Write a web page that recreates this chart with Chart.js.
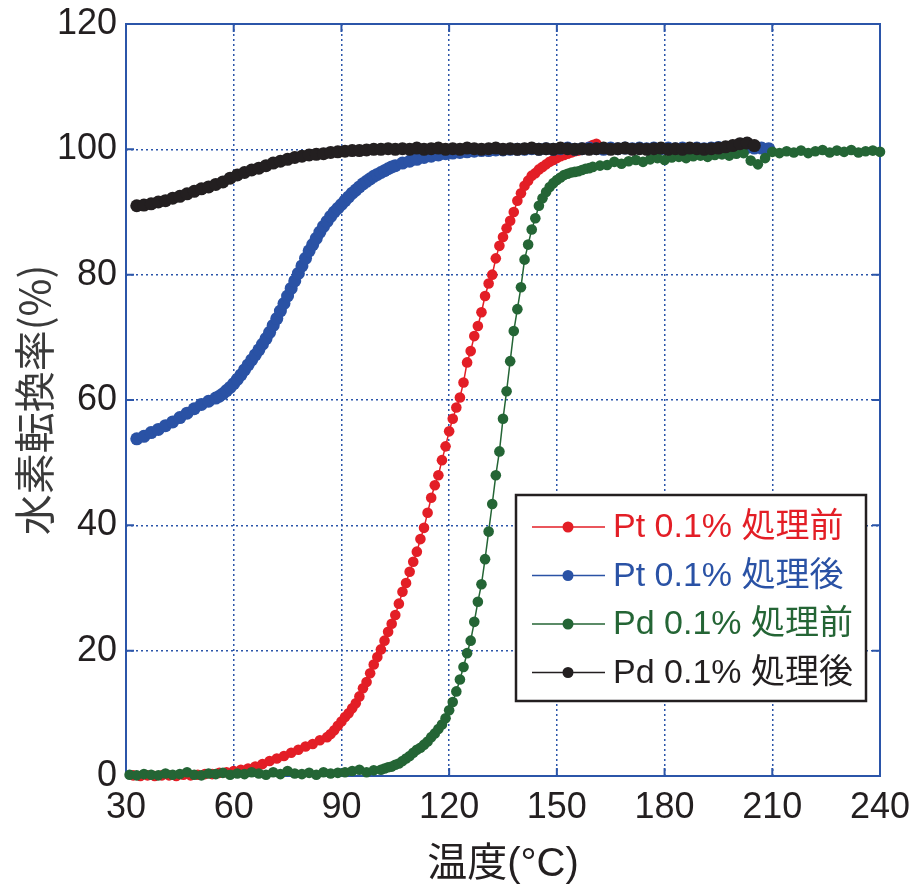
<!DOCTYPE html>
<html>
<head>
<meta charset="utf-8">
<script src="https://cdn.jsdelivr.net/npm/chart.js@4.4.1/dist/chart.umd.min.js"></script>
<style>
  body { margin: 0; background: #fff; }
  canvas { display: block; }
</style>
</head>
<body>
<canvas id="conv" width="917" height="887"></canvas>
<script>
// tick labels
var xTicks = [30, 60, 90, 120, 150, 180, 210, 240];
var yTicks = [0, 20, 40, 60, 80, 100, 120];

var seriesNames = ['Pt 0.1% 処理前', 'Pt 0.1% 処理後', 'Pd 0.1% 処理前', 'Pd 0.1% 処理後'];
var seriesColors = ['#e31e26', '#2a52a5', '#246535', '#231f20'];

// Pt 0.1% before treatment
var ptBeforeT = [32,34,36,38,40,42,44,46,48,50,52,54,56,58,60,62,64,66,68,70,72,74,76,78,80,82,84,
  86,87,88,89,90,91,92,93,94,95,96,97,98,99,100,101,102,103,104,105,106,107,108,109,110,
  111,112,113,114,115,116,117,118,119,120,121,122,123,124,125,126,127,128,129,130,
  131,132,133,134,135,136,137,138,139,140,141,142,143,144,145,146,147,148,149,150,
  151,152,153,154,155,156,157,158,159,160,161];
var ptBefore = [0.1,0,0.1,0,0.1,0.1,0,0.2,0.1,0.2,0.3,0.3,0.5,0.6,0.8,1.0,1.2,1.5,1.9,2.4,2.8,3.2,3.7,4.2,4.7,5.1,5.7,
  6.2,6.7,7.3,8.0,8.7,9.4,10.0,10.8,11.6,12.7,14.0,15.0,16.4,17.8,19.0,20.2,21.6,23.0,24.3,25.7,27.5,29.4,30.8,32.6,34.2,
  35.8,37.8,39.6,42.0,44.4,46.4,48.0,50.4,52.6,55.0,57.0,58.8,60.4,62.8,66.0,67.8,70.2,71.8,74.0,76.6,
  78.6,80.0,82.6,84.6,86.0,87.4,88.6,90.0,91.8,93.0,94.2,95.0,95.8,96.2,96.8,97.2,97.6,98.0,98.3,98.6,
  98.9,99.1,99.3,99.5,99.7,99.8,100.0,100.2,100.4,100.7,100.9];

// Pt 0.1% after treatment
var ptAfterT = [33,35,37,39,41,43,45,47,49,51,53,55,
  56,57,58,59,60,61,62,63,64,65,66,67,68,69,70,71,72,73,74,75,76,77,78,79,80,
  81,82,83,84,85,86,87,88,89,90,91,92,93,94,95,96,97,98,99,100,101,102,103,104,105,
  107,109,111,113,115,117,119,121,123,125,
  127,129,131,133,135,137,139,141,143,145,
  147,149,151,153,155,157,159,161,163,165,
  167,169,171,173,175,177,179,181,183,185,
  187,189,191,193,195,197,199,201,203,205,
  207,209];
var ptAfter = [53.8,54.2,54.8,55.3,55.9,56.5,57.2,57.9,58.6,59.3,59.8,60.3,
  60.6,61.0,61.5,62.0,62.6,63.3,64.0,64.8,65.6,66.4,67.2,68.0,68.9,69.8,70.8,71.9,73.0,74.2,75.4,76.6,77.8,79.0,80.2,81.4,82.6,
  83.8,84.8,85.8,86.8,87.7,88.5,89.3,90.0,90.6,91.2,91.8,92.4,93.0,93.5,94.0,94.5,94.9,95.3,95.7,96.0,96.3,96.6,96.9,97.2,97.4,
  97.8,98.1,98.4,98.7,98.9,99.1,99.3,99.4,99.5,99.6,
  99.7,99.8,99.8,99.9,99.9,100,100,100,100.1,100,
  100.1,100,100.1,100.2,100,100.1,100.2,100.1,100,100.2,
  100.1,100.2,100.1,100.2,100.1,100.2,100.1,100.2,100.1,100.2,
  100.1,100.2,100.1,100.2,100.3,100.2,100.3,100.2,100.3,100.2,
  100.2,100.1];

// Pd 0.1% before treatment
var pdBeforeT = [31,33,35,37,39,41,43,45,47,49,51,53,55,57,59,61,63,65,67,69,71,73,75,77,79,81,83,85,87,89,91,93,95,97,99,
  101,102,103,104,105,106,107,108,109,110,111,112,113,114,115,116,117,118,119,120,
  121,122,123,124,125,126,127,128,129,130,131,132,133,134,135,136,137,138,139,140,
  141,142,143,144,145,146,147,148,149,150,151,152,153,154,155,156,157,158,159,160,
  162,164,166,168,170,172,174,176,178,180,182,184,186,188,190,192,194,196,198,200,
  202,204,206,208,210,212,214,216,218,220,222,224,226,228,230,232,234,236,238,240];
var pdBefore = [0.2,0.1,0.3,0.2,0.1,0.4,0.2,0.3,0.6,0.2,0.1,0.4,0.3,0.5,0.2,0.4,0.3,0.6,0.4,0.2,0.6,0.3,0.8,0.4,0.3,0.5,0.2,0.6,0.4,0.5,0.6,0.8,1.0,0.6,0.9,
  1.0,1.2,1.4,1.5,1.8,2.0,2.4,2.8,3.2,3.7,4.2,4.5,5.0,5.5,6.2,6.8,7.5,8.2,9.2,10.5,
  11.8,13.5,15.4,17.4,19.6,21.6,24.6,27.8,30.6,34.6,39.0,43.4,48.0,51.8,57.0,61.4,66.2,71.0,74.5,78.0,
  82.4,84.8,87.2,89.0,91.0,92.2,93.2,94.0,94.6,95.1,95.5,95.9,96.1,96.3,96.4,96.5,96.7,96.9,97.0,97.2,
  97.4,97.5,98.0,97.7,98.1,98.3,98.0,98.4,98.6,98.3,98.7,98.8,98.6,98.9,99.0,98.8,99.1,99.2,99.0,99.3,
  99.4,98.2,97.6,98.6,99.6,99.4,99.7,99.5,99.8,99.4,99.7,99.9,99.5,99.8,99.6,99.9,99.5,99.7,99.8,99.6];

// Pd 0.1% after treatment
var pdAfterT = [33,35,37,39,41,43,45,47,49,51,53,55,57,59,61,63,65,67,69,71,73,75,77,79,81,83,85,87,89,91,93,95,97,99,
  101,103,105,107,109,111,113,115,117,119,
  121,123,125,127,129,131,133,135,137,139,
  141,143,145,147,149,151,153,155,157,159,
  161,163,165,167,169,171,173,175,177,179,
  181,183,185,187,189,191,193,195,
  197,199,201,203,205];
var pdAfter = [91.0,91.1,91.3,91.6,91.8,92.2,92.5,92.9,93.3,93.7,94.0,94.4,94.8,95.4,95.9,96.3,96.7,97.0,97.4,97.8,98.1,98.4,98.7,98.9,99.1,99.2,99.3,99.5,99.6,99.7,99.8,99.8,99.9,100,
  100,100.1,100,100.1,100,100.2,100,100.1,100.2,100,
  100.1,100,100.2,100.1,100,100.1,100.2,100,100.1,100,
  100.1,100.2,100,100.1,100,100.2,100.1,100,100.1,100,
  100.1,100.2,100,100.1,100.2,100,100.1,100,100.1,100.2,
  100,100.1,100,100.2,100.1,100,100.1,100.2,
  100.4,100.6,100.9,101.0,100.6];

function toPoints(xs, ys) {
    var pts = [];
    for (var i = 0; i < xs.length; i++) pts.push({x: xs[i], y: ys[i]});
    return pts;
}

var allT = [ptBeforeT, ptAfterT, pdBeforeT, pdAfterT];
var allV = [ptBefore, ptAfter, pdBefore, pdAfter];
var radii = [5.3, 6.5, 5.3, 6.5];
var orders = [4, 3, 2, 1];

var datasets = [];
for (var i = 0; i < 4; i++) {
    datasets.push({
        label: seriesNames[i],
        data: toPoints(allT[i], allV[i]),
        showLine: true,
        borderColor: seriesColors[i],
        backgroundColor: seriesColors[i],
        borderWidth: 1.5,
        pointRadius: radii[i],
        pointBorderWidth: 0,
        pointBackgroundColor: seriesColors[i],
        order: orders[i],
        clip: false
    });
}

var axisBlue = '#2b55a9';
var numFont = '"Liberation Sans", Arial, sans-serif';
var jpFont = '"Liberation Sans", "Noto Sans CJK JP", sans-serif';

// box around the plot with inward ticks on all four sides
var frame = {
    id: 'frame',
    beforeDatasetsDraw: function(chart) {
        var ctx = chart.ctx, a = chart.chartArea;
        var xs = chart.scales.x, ys = chart.scales.y;
        ctx.save();
        ctx.strokeStyle = axisBlue;
        ctx.lineWidth = 2;
        ctx.strokeRect(a.left, a.top, a.right - a.left, a.bottom - a.top);
        ctx.beginPath();
        xTicks.forEach(function(v) {
            var px = xs.getPixelForValue(v);
            ctx.moveTo(px, a.bottom); ctx.lineTo(px, a.bottom - 8);
            ctx.moveTo(px, a.top); ctx.lineTo(px, a.top + 8);
        });
        yTicks.forEach(function(v) {
            var py = ys.getPixelForValue(v);
            ctx.moveTo(a.left, py); ctx.lineTo(a.left + 8, py);
            ctx.moveTo(a.right, py); ctx.lineTo(a.right - 8, py);
        });
        ctx.stroke();
        ctx.restore();
    },
    afterDraw: function(chart) {
        // legend box inside the plot
        var ctx = chart.ctx;
        var bx = 516, by = 495, bw = 350, bh = 206;
        ctx.save();
        ctx.fillStyle = '#fff';
        ctx.fillRect(bx, by, bw, bh);
        ctx.strokeStyle = '#231f20';
        ctx.lineWidth = 2.5;
        ctx.strokeRect(bx, by, bw, bh);
        ctx.font = '34px ' + jpFont;
        ctx.textBaseline = 'middle';
        chart.data.datasets.forEach(function(ds, i) {
            var ry = 527 + i * 48.5;
            ctx.strokeStyle = ds.borderColor;
            ctx.lineWidth = 1.5;
            ctx.beginPath();
            ctx.moveTo(532, ry); ctx.lineTo(605, ry);
            ctx.stroke();
            ctx.fillStyle = ds.borderColor;
            ctx.beginPath();
            ctx.arc(568, ry, 5.5, 0, Math.PI * 2);
            ctx.fill();
            ctx.fillText(ds.label, 613, ry + 1);
        });
        ctx.restore();
    }
};

var ctx = document.getElementById('conv').getContext('2d');
var myChart = new Chart(ctx, {
    type: 'scatter',
    data: { datasets: datasets },
    options: {
        responsive: false,
        animation: false,
        devicePixelRatio: 1,
        layout: { padding: { left: 0, right: 37, top: 24, bottom: 0 } },
        plugins: {
            legend: { display: false },
            tooltip: { enabled: false }
        },
        scales: {
            x: {
                type: 'linear',
                min: 30,
                max: 240,
                afterBuildTicks: function(s) { s.ticks = xTicks.map(function(v) { return {value: v}; }); },
                afterFit: function(s) { s.height = 111; s.paddingLeft = 0; s.paddingRight = 0; },
                ticks: {
                    color: '#231f20',
                    font: { family: numFont, size: 36 },
                    padding: 10,
                    maxRotation: 0
                },
                grid: { color: axisBlue, lineWidth: 1.5, drawTicks: false },
                border: { display: false, dash: [2, 3] },
                title: {
                    display: true,
                    text: '温度(°C)',
                    color: '#231f20',
                    font: { family: jpFont, size: 40, lineHeight: 1 },
                    padding: { top: 0, bottom: 2 }
                }
            },
            y: {
                type: 'linear',
                min: 0,
                max: 120,
                afterBuildTicks: function(s) { s.ticks = yTicks.map(function(v) { return {value: v}; }); },
                afterFit: function(s) { s.width = 126; s.paddingTop = 0; s.paddingBottom = 0; },
                ticks: {
                    color: '#231f20',
                    font: { family: numFont, size: 36 },
                    padding: 9
                },
                grid: { color: axisBlue, lineWidth: 1.5, drawTicks: false },
                border: { display: false, dash: [2, 3] },
                title: {
                    display: true,
                    text: '水素転換率(%)',
                    color: '#3a3a3a',
                    font: { family: '"Noto Sans CJK JP", sans-serif', size: 41, lineHeight: 1 },
                    padding: { top: 14, bottom: 0 }
                }
            }
        }
    },
    plugins: [frame]
});
</script>
</body>
</html>
